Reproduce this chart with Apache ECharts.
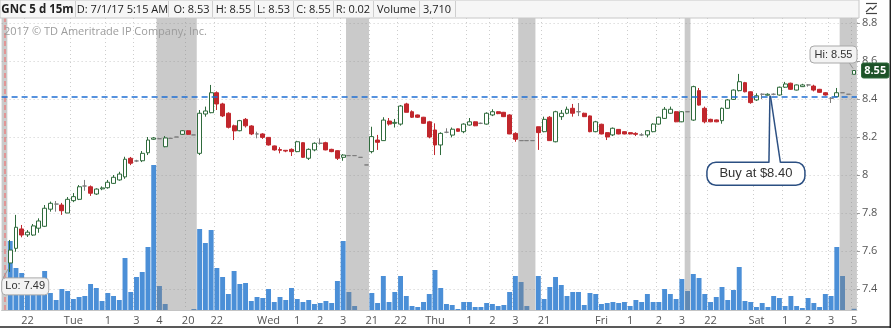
<!DOCTYPE html>
<html><head><meta charset="utf-8">
<script src="https://cdn.jsdelivr.net/npm/echarts@6/dist/echarts.min.js"></script>
<style>html,body{margin:0;padding:0;background:#fff}#c{width:891px;height:328px}</style>
</head><body><div id="c"></div>
<script>
// ---- data (15-minute bars) ----
const opens = [null,
7.537,7.614,7.716,7.685,7.684,7.72,7.73,7.82,7.847,7.842,7.80,7.865,7.872,7.942,7.938,7.90,7.927,7.933,7.956,7.974,7.99,8.088,8.074,8.075,8.117,8.188,
8.191,8.149,8.193,8.2,8.214,8.233,8.211,
8.114,8.321,8.328,8.433,8.374,8.325,8.259,8.233,8.293,8.258,8.216,8.216,8.198,8.153,8.134,8.13,8.135,8.123,8.17,8.088,8.132,8.167,8.17,8.135,8.128,8.093,
8.102,8.102,8.093,8.053,
8.123,8.184,8.181,8.284,8.272,8.268,8.374,8.333,8.316,8.304,8.28,8.237,8.158,8.225,8.21,8.243,8.228,8.263,8.28,8.272,8.268,8.316,8.333,8.33,8.316,8.219,
8.181,8.181,8.181,
8.254,8.228,8.304,8.175,8.307,8.325,8.351,8.333,8.325,8.311,8.228,8.267,8.223,8.211,8.24,8.228,8.223,8.219,8.211,8.211,8.228,8.268,8.298,8.325,8.333,8.28,
8.333,
8.289,8.444,8.351,8.293,8.29,8.286,8.351,8.398,8.444,8.486,8.438,8.395,8.425,8.42,8.425,8.421,8.462,8.483,8.447,8.465,8.474,8.468,8.451,8.433,8.404,8.412,
8.433,8.425,8.53];
const closes = [null,
7.605,7.725,7.684,7.699,7.732,7.758,7.825,7.851,7.847,7.812,7.872,7.886,7.938,7.942,7.904,7.926,7.932,7.962,7.988,8.005,8.083,8.062,8.074,8.114,8.184,8.195,
8.191,8.195,8.193,8.2,8.233,8.214,8.211,
8.325,8.337,8.433,8.374,8.311,8.251,8.232,8.286,8.259,8.216,8.216,8.198,8.158,8.132,8.13,8.126,8.123,8.175,8.093,8.135,8.167,8.167,8.132,8.123,8.088,8.105,
8.102,8.102,8.093,8.053,
8.202,8.172,8.289,8.268,8.277,8.363,8.33,8.304,8.304,8.272,8.2,8.158,8.219,8.225,8.241,8.23,8.268,8.28,8.259,8.272,8.325,8.333,8.323,8.307,8.216,8.188,
8.181,8.181,8.181,
8.223,8.293,8.181,8.333,8.325,8.346,8.325,8.333,8.307,8.228,8.28,8.216,8.2,8.246,8.216,8.216,8.216,8.214,8.211,8.233,8.268,8.304,8.346,8.346,8.28,8.333,
8.333,
8.465,8.368,8.28,8.28,8.28,8.351,8.395,8.447,8.491,8.438,8.381,8.417,8.425,8.425,8.425,8.462,8.479,8.451,8.474,8.474,8.474,8.447,8.435,8.421,8.404,8.433,
8.433,8.425,8.55];
const lows = [null,
7.49,7.596,7.672,7.674,7.68,7.696,7.726,7.807,7.807,7.79,7.80,7.857,7.868,7.917,7.89,7.895,7.92,7.928,7.953,7.97,7.98,8.052,8.068,8.068,8.105,8.185,
8.191,8.146,8.193,8.2,8.211,8.211,8.211,
8.105,8.307,8.325,8.342,8.305,8.245,8.184,8.23,8.25,8.21,8.193,8.19,8.155,8.128,8.114,8.12,8.1,8.12,8.09,8.079,8.125,8.16,8.13,8.12,8.079,8.075,
8.102,8.102,8.093,8.053,
8.114,8.132,8.18,8.26,8.25,8.26,8.33,8.3,8.3,8.27,8.193,8.105,8.105,8.22,8.198,8.228,8.22,8.26,8.257,8.268,8.265,8.31,8.32,8.305,8.215,8.175,
8.181,8.181,8.181,
8.132,8.225,8.18,8.172,8.29,8.32,8.307,8.31,8.305,8.225,8.225,8.214,8.184,8.205,8.214,8.214,8.214,8.205,8.205,8.198,8.225,8.265,8.295,8.322,8.278,8.278,
8.333,
8.285,8.365,8.272,8.278,8.278,8.27,8.348,8.395,8.44,8.435,8.375,8.39,8.4,8.418,8.42,8.418,8.458,8.448,8.445,8.463,8.465,8.44,8.432,8.418,8.379,8.41,
8.433,8.425,8.53];
const highs = [null,
7.658,7.79,7.737,7.71,7.742,7.772,7.842,7.86,7.863,7.853,7.884,7.905,7.947,7.974,7.945,7.93,7.94,7.974,8.0,8.017,8.096,8.095,8.08,8.126,8.2,8.2,
8.191,8.205,8.193,8.2,8.236,8.236,8.211,
8.342,8.36,8.474,8.44,8.38,8.33,8.265,8.29,8.3,8.262,8.228,8.22,8.2,8.155,8.146,8.13,8.14,8.18,8.172,8.14,8.172,8.193,8.175,8.138,8.13,8.11,
8.102,8.102,8.093,8.053,
8.254,8.211,8.304,8.3,8.295,8.368,8.38,8.34,8.318,8.306,8.285,8.272,8.225,8.246,8.25,8.245,8.272,8.3,8.282,8.276,8.33,8.346,8.335,8.332,8.32,8.225,
8.181,8.181,8.181,
8.254,8.307,8.31,8.338,8.342,8.36,8.374,8.379,8.328,8.313,8.285,8.27,8.225,8.25,8.242,8.23,8.225,8.225,8.22,8.236,8.272,8.307,8.358,8.36,8.336,8.336,
8.333,
8.47,8.458,8.36,8.296,8.292,8.355,8.4,8.45,8.532,8.49,8.44,8.43,8.43,8.43,8.43,8.465,8.49,8.486,8.476,8.48,8.478,8.475,8.453,8.436,8.41,8.458,
8.433,8.425,8.55];
const volumes = [
0,207000,126000,111000,60000,66000,54000,117000,51000,30000,
63000,57000,33000,39000,42000,78000,66000,27000,51000,42000,
30000,156000,54000,99000,114000,189000,435000,72000,18000,0,
0,0,0,3000,243000,201000,240000,126000,99000,48000,
117000,78000,81000,27000,39000,36000,63000,24000,39000,30000,
66000,33000,24000,30000,18000,21000,27000,21000,87000,207000,
54000,12000,0,0,51000,21000,102000,24000,54000,102000,
42000,12000,9000,24000,48000,120000,66000,18000,15000,3000,
24000,24000,9000,9000,21000,18000,12000,15000,54000,102000,
84000,12000,0,102000,33000,69000,99000,75000,42000,54000,
54000,15000,51000,48000,18000,21000,24000,21000,24000,12000,
30000,24000,48000,24000,24000,63000,48000,33000,93000,57000,
108000,96000,48000,24000,39000,69000,30000,60000,129000,27000,
24000,9000,21000,9000,42000,36000,12000,42000,12000,6000,
36000,21000,9000,48000,42000,189000,102000,0,3710];
const tickIndex = [4,12,18,23,27,32,37,46,51,55,59,64,69,75,81,85,89,94,104,109,114,118,123,131,136,140,144,148];
const tickText = ['22','Tue','1','3','4','20','22','Wed','1','2','3','21','22','Thu','1','2','3','21','Fri','1','2','3','22','Sat','1','2','3','5'];
const grayRanges = [[0,0],[27,33],[60,63],[90,92],[119,119],[146,148]];
const buyLevel = 8.41;
const buyIndex = 133;
const lastBar = {date:'7/1/17 5:15 AM', o:8.53, h:8.55, l:8.53, c:8.55, r:0.02, vol:'3,710'};

// ---- chart ----
const N = opens.length;
const cats = opens.map((_, i) => String(i));
const candleData = opens.map((o, i) => o == null ? ['-','-','-','-'] : [o, closes[i], lows[i], highs[i]]);
const labelMap = new Map(tickIndex.map((k, j) => [k, tickText[j]]));
const FONT = '"Open Sans", "Noto Sans", sans-serif';

const chart = echarts.init(document.getElementById('c'), null, {renderer: 'canvas'});
const gridL = 1.6, gridW = 855.3;
const option = {
  animation: false,
  backgroundColor: '#ffffff',
  grid: [
    {left: gridL, top: 23, width: gridW, height: 266, outerBoundsMode: 'none', containLabel: false},
    {left: gridL, top: 18, width: gridW, height: 292, outerBoundsMode: 'none', containLabel: false}
  ],
  xAxis: [
    {type: 'category', gridIndex: 0, data: cats, axisLine: {show: false}, axisTick: {show: false},
     axisLabel: {show: false}, splitLine: {show: false}},
    {type: 'category', gridIndex: 1, data: cats,
     axisLine: {show: true, lineStyle: {color: '#c4c4c4', width: 1}},
     axisTick: {show: false},
     axisLabel: {show: true, interval: (i) => labelMap.has(i), formatter: (v, i) => labelMap.get(+v) || '',
       color: '#555', fontSize: 11, fontFamily: FONT, margin: 5, hideOverlap: false},
     splitLine: {show: true, interval: (i) => labelMap.has(i), lineStyle: {color: '#cdcdcd', type: [1, 3], width: 1}}}
  ],
  yAxis: [
    {type: 'value', gridIndex: 0, position: 'right', min: 7.4, max: 8.8, interval: 0.2, scale: true,
     axisLine: {show: false}, axisTick: {show: true, length: 3, lineStyle: {color: '#999'}},
     axisLabel: {color: '#555', fontSize: 11, fontFamily: FONT, margin: 5, formatter: v => String(+(+v).toFixed(1))},
     splitLine: {show: true, lineStyle: {color: '#cdcdcd', type: [1, 3], width: 1}}},
    {type: 'value', gridIndex: 1, min: 0, max: 876000, show: false, splitLine: {show: false}}
  ],
  series: [
    {type: 'bar', name: 'Volume', xAxisIndex: 1, yAxisIndex: 1, data: volumes, z: 2,
     barCategoryGap: '14%', itemStyle: {color: '#4b8fd7'}, silent: true,
     markLine: {silent: true, symbol: 'none', label: {show: false},
       lineStyle: {color: '#e98585', type: [5, 3], width: 1.5}, data: [{xAxis: 0}]}},
    {type: 'custom', xAxisIndex: 1, yAxisIndex: 1, z: 3, silent: true, data: grayRanges,
     encode: {x: [0, 1]},
     renderItem(params, api) {
       const s = api.coord([api.value(0), 0]);
       const e = api.coord([api.value(1), 0]);
       const bw = api.size([1, 0])[0];
       const cs = params.coordSys;
       return {type: 'rect', shape: {x: s[0] - bw / 2, y: cs.y, width: e[0] - s[0] + bw, height: cs.height},
               style: {fill: 'rgba(128,128,128,0.42)'}};
     }},
    {type: 'candlestick', name: 'GNC', xAxisIndex: 0, yAxisIndex: 0, data: candleData, z: 4,
     barWidth: 4.4, silent: true,
     itemStyle: {color: '#ffffff', color0: '#c1272d', borderColor: '#2f6b3c', borderColor0: '#c1272d',
                 borderColorDoji: '#7d7d7d', borderWidth: 1},
     markLine: {silent: true, symbol: 'none', label: {show: false},
       lineStyle: {color: '#1f6fd4', type: [6, 4], width: 1.6}, data: [{yAxis: buyLevel}]}}
  ]
};
chart.setOption(option);

// ---- annotations ----
const px = (i, v) => chart.convertToPixel({xAxisIndex: 0, yAxisIndex: 0}, [i, v]);
const lo = px(1, lows[1]);
const hi = px(N - 1, highs[N - 1]);
const bp = px(buyIndex, closes[buyIndex]);

const g = [];
// header
g.push({type: 'rect', shape: {x: 0, y: 0, width: 859, height: 18}, style: {fill: '#f6f6f6', stroke: '#c8c8c8', lineWidth: 1}, z: 10});
const cells = [
  ['GNC 5 d 15m', 37.5, true], ['D: ' + lastBar.date, 122.5], ['O: ' + lastBar.o.toFixed(2), 191.5],
  ['H: ' + lastBar.h.toFixed(2), 233.5], ['L: ' + lastBar.l.toFixed(2), 273.5], ['C: ' + lastBar.c.toFixed(2), 313.5],
  ['R: ' + lastBar.r.toFixed(2), 353], ['Volume', 396.5], [lastBar.vol, 437]
];
[75.5, 168.5, 212.5, 254.5, 293.5, 333.5, 373.5, 419.5, 455.5].forEach(x =>
  g.push({type: 'line', shape: {x1: x, y1: 1, x2: x, y2: 17}, style: {stroke: '#cfcfcf', lineWidth: 1}, z: 11}));
cells.forEach(c => g.push({type: 'text', x: c[1], y: 9.5, z: 12,
  style: {text: c[0], fill: '#222', font: (c[2] ? 'bold 11.5px ' : '11px ') + FONT, textAlign: 'center', textVerticalAlign: 'middle'}}));
// watermark
g.push({type: 'text', x: 4, y: 32, z: 12, style: {text: '2017 \u00A9 TD Ameritrade IP Company, Inc.', fill: '#9c9c9c', font: '11px ' + FONT, textVerticalAlign: 'middle'}});
// icon top-right
g.push({type: 'polyline', shape: {points: [[866, 3.5], [877, 3.5]]}, style: {stroke: '#444', lineWidth: 1.2}, z: 12});
g.push({type: 'polyline', shape: {points: [[866, 12], [870.5, 7.5], [872.5, 9.5], [876.5, 5.5]]}, style: {stroke: '#444', lineWidth: 1.2, fill: null}, z: 12});
g.push({type: 'polyline', shape: {points: [[866, 13.5], [877, 13.5]]}, style: {stroke: '#444', lineWidth: 1.2}, z: 12});
// frame lines
g.push({type: 'line', shape: {x1: 0, y1: 327, x2: 891, y2: 327}, style: {stroke: '#222', lineWidth: 1.5}, z: 12});
g.push({type: 'line', shape: {x1: 890.3, y1: 0, x2: 890.3, y2: 328}, style: {stroke: '#222', lineWidth: 1.5}, z: 12});
// Lo callout
g.push({type: 'line', shape: {x1: lo[0] - 7, y1: lo[1] + 6, x2: lo[0] - 2, y2: lo[1] - 3}, style: {stroke: '#999', lineWidth: 1}, z: 12});
g.push({type: 'rect', shape: {x: lo[0] - 8.5, y: lo[1] + 6, width: 47, height: 17, r: 4}, style: {fill: '#f3f3f3', stroke: '#a9a9a9', lineWidth: 1}, z: 13});
g.push({type: 'text', x: lo[0] - 8.5 + 23.5, y: lo[1] + 14.5, z: 14, style: {text: 'Lo: ' + lows[1].toFixed(2), fill: '#333', font: '11px "Liberation Sans", Arial, sans-serif', textAlign: 'center', textVerticalAlign: 'middle'}});
// Hi callout
g.push({type: 'line', shape: {x1: hi[0] - 5, y1: hi[1] - 8, x2: hi[0] - 1, y2: hi[1] - 2}, style: {stroke: '#999', lineWidth: 1}, z: 12});
g.push({type: 'rect', shape: {x: hi[0] - 44, y: hi[1] - 24.5, width: 47, height: 17, r: 4}, style: {fill: '#f3f3f3', stroke: '#a9a9a9', lineWidth: 1}, z: 13});
g.push({type: 'text', x: hi[0] - 44 + 23.5, y: hi[1] - 16, z: 14, style: {text: 'Hi: ' + highs[N - 1].toFixed(2), fill: '#333', font: '11px "Liberation Sans", Arial, sans-serif', textAlign: 'center', textVerticalAlign: 'middle'}});
// last price tag
g.push({type: 'rect', shape: {x: 861.5, y: hi[1] - 7.5, width: 27.5, height: 15, r: 2}, style: {fill: '#1d5228', stroke: '#2f6b3c', lineWidth: 1}, z: 13});
g.push({type: 'text', x: 875.2, y: hi[1], z: 14, style: {text: closes[N - 1].toFixed(2), fill: '#fff', font: 'bold 11px ' + FONT, textAlign: 'center', textVerticalAlign: 'middle'}});
// Buy callout
const bx = bp[0] - 61, by = bp[1] + 68;
g.push({type: 'rect', shape: {x: bx, y: by, width: 98, height: 23, r: 9}, style: {fill: '#fff', stroke: '#2b4f82', lineWidth: 1.5}, z: 13});
g.push({type: 'polygon', shape: {points: [[bp[0] + 1, by + 1], [bp[0] + 2, bp[1] + 1.5], [bp[0] + 12.5, by + 1]]}, style: {fill: '#fff'}, z: 14});
g.push({type: 'line', shape: {x1: bp[0] + 1, y1: by + 0.5, x2: bp[0] + 2, y2: bp[1] + 1.5}, style: {stroke: '#2b4f82', lineWidth: 1.5}, z: 15});
g.push({type: 'line', shape: {x1: bp[0] + 12.5, y1: by + 0.5, x2: bp[0] + 2.5, y2: bp[1] + 1.5}, style: {stroke: '#2b4f82', lineWidth: 1.5}, z: 15});
g.push({type: 'text', x: bx + 49, y: by + 11.5, z: 15, style: {text: 'Buy at $8.40', fill: '#333', font: '13px "Liberation Sans", Arial, sans-serif', textAlign: 'center', textVerticalAlign: 'middle'}});

chart.setOption({graphic: g});
</script>
</body></html>
